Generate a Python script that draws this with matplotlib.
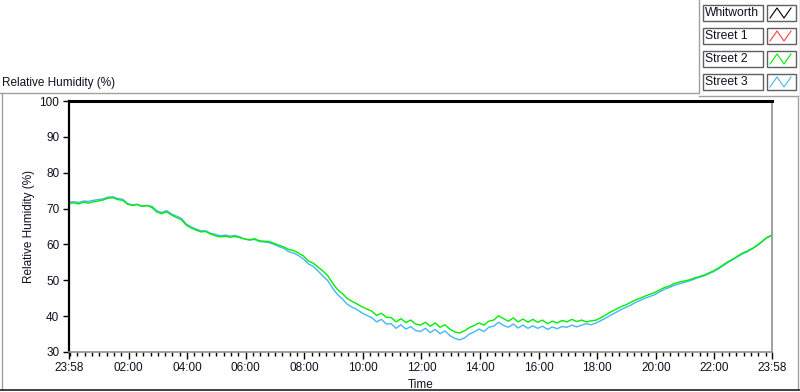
import datetime as dt

import matplotlib
matplotlib.use("Agg")
import matplotlib.pyplot as plt
import matplotlib.dates as mdates
from matplotlib.lines import Line2D
from matplotlib.patches import Rectangle
from matplotlib.ticker import FixedLocator

plt.rcParams['font.family'] = ['Liberation Sans', 'DejaVu Sans']

# readings every 10 minutes, starting 23:58
start = dt.datetime(2014, 6, 1, 23, 58)
step_minutes = 10

street2 = [
    71.4, 71.6, 71.3, 71.8, 71.5, 71.9,
    72.1, 72.4, 72.9, 73.0, 72.5, 72.3,
    71.2, 70.9, 71.1, 70.6, 70.8, 70.3,
    69.0, 68.6, 69.1, 68.2, 67.5, 66.9,
    65.4, 64.6, 64.0, 63.5, 63.6, 62.9,
    62.4, 62.1, 62.3, 62.0, 62.2, 61.9,
    61.5, 61.3, 61.6, 61.0, 60.9, 60.8,
    60.3, 59.8, 59.3, 58.6, 58.3, 57.6,
    56.8, 55.4, 54.8, 53.7, 52.6, 51.3,
    49.2, 47.4, 46.3, 44.9, 44.1, 43.4,
    42.6, 42.0, 41.4, 40.2, 40.8, 39.7,
    39.6, 38.4, 39.3, 38.2, 38.9, 37.8,
    37.5, 38.3, 37.2, 38.1, 36.9, 37.6,
    36.4, 35.6, 35.3, 35.9, 36.8, 37.4,
    38.1, 37.5, 38.6, 38.9, 40.1, 39.3,
    38.6, 39.5, 38.4, 39.2, 38.3, 39.1,
    38.3, 38.9, 37.9, 38.6, 38.1, 38.8,
    38.4, 39.1, 38.5, 38.9, 38.4, 38.7,
    38.9, 39.6, 40.4, 41.2, 41.9, 42.6,
    43.1, 43.8, 44.5, 45.0, 45.6, 46.1,
    46.6, 47.3, 48.0, 48.4, 49.1, 49.5,
    49.8, 50.1, 50.6, 51.0, 51.4, 52.0,
    52.6, 53.4, 54.3, 55.2, 55.9, 56.8,
    57.6, 58.2, 58.9, 59.8, 60.9, 62.0,
    62.6,
]

street3 = [
    71.8, 71.9, 71.7, 72.1, 72.0, 72.3,
    72.5, 72.7, 73.2, 73.3, 72.8, 72.6,
    71.4, 71.0, 71.2, 70.7, 70.9, 70.6,
    69.4, 68.9, 69.4, 68.5, 67.9, 67.3,
    65.7, 64.9, 64.3, 63.8, 63.8, 63.1,
    62.8, 62.4, 62.6, 62.3, 62.5, 62.1,
    61.5, 61.2, 61.4, 60.8, 60.7, 60.5,
    60.0, 59.4, 58.9, 58.0, 57.6, 56.9,
    56.0, 54.6, 53.9, 52.6, 51.2, 49.9,
    47.8, 46.0, 44.8, 43.3, 42.5, 41.8,
    40.9, 40.2, 39.6, 38.4, 39.1, 37.8,
    37.9, 36.6, 37.6, 36.4, 37.1, 36.0,
    35.7, 36.6, 35.4, 36.3, 35.1, 35.9,
    34.6, 33.8, 33.4, 33.9, 35.0, 35.6,
    36.4, 35.7, 36.9, 37.2, 38.3, 37.4,
    36.9, 37.8, 36.7, 37.5, 36.6, 37.3,
    36.6, 37.2, 36.3, 37.0, 36.5, 37.1,
    36.9, 37.5, 37.0, 37.5, 37.9, 37.6,
    38.1, 38.8, 39.5, 40.3, 41.0, 41.8,
    42.4, 43.0, 43.8, 44.4, 45.0, 45.5,
    46.0, 46.8, 47.5, 48.0, 48.6, 49.0,
    49.4, 49.8, 50.3, 50.8, 51.2, 51.8,
    52.4, 53.2, 54.1, 55.0, 55.8, 56.6,
    57.4, 58.0, 58.8, 59.7, 60.8, 61.9,
    62.5,
]

series_names = ["Whitworth", "Street 1", "Street 2", "Street 3"]
series_colors = ["#000000", "#ff4040", "#00ee00", "#45b6f7"]
y_ticks = [30, 40, 50, 60, 70, 80, 90, 100]
x_major_hours = [2, 4, 6, 8, 10, 12, 14, 16, 18, 20, 22]

times = [start + dt.timedelta(minutes=step_minutes * i) for i in range(len(street2))]
end = start + dt.timedelta(hours=24)
day2 = dt.datetime(start.year, start.month, start.day) + dt.timedelta(days=1)
major_times = [start] + [day2 + dt.timedelta(hours=h) for h in x_major_hours] + [end]

W, H = 800, 392
fig = plt.figure(figsize=(W / 100, H / 100), dpi=100)

# overlay in pixel units for the panel frame and legend
bg = fig.add_axes([0, 0, 1, 1])
bg.set_xlim(0, W)
bg.set_ylim(H, 0)
bg.axis("off")

gray = "#a0a0a0"
bg.plot([0, 698], [92.5, 92.5], color=gray, lw=1)
bg.plot([698.5, 698.5], [0, 92.5], color=gray, lw=1)
bg.plot([699, 798], [95.5, 95.5], color=gray, lw=1)
bg.plot([797.5, 797.5], [95.5, 389], color=gray, lw=1)
bg.plot([799.5, 799.5], [0, 95], color=gray, lw=1)
bg.plot([1.5, 1.5], [92.5, 389], color=gray, lw=1)
bg.plot([0, 800], [389.5, 389.5], color="#202020", lw=1.2)

bg.text(2, 83, "Relative Humidity (%)", fontsize=8.5, ha="left", va="center",
        color="#101020")

# legend boxes
for i, (name, color) in enumerate(zip(series_names, series_colors)):
    top = 4 + 23 * i
    bg.add_patch(Rectangle((702.5, top + 0.5), 60, 16, facecolor="white",
                           edgecolor="#606060", lw=1))
    bg.text(705, top + 9, name, fontsize=8.7, ha="left", va="center",
            color="#101020")
    bg.add_patch(Rectangle((766.5, top + 0.5), 29, 16, facecolor="white",
                           edgecolor="#606060", lw=1))
    bg.add_line(Line2D([770, 777, 784, 791], [top + 14, top + 4, top + 14, top + 4],
                       color=color, lw=0.8))

ax = fig.add_axes([69 / W, 1 - 352 / H, (772 - 69) / W, (352 - 101) / H])
ax.plot(times, street3, color=series_colors[3], lw=1.0)
ax.plot(times, street2, color=series_colors[2], lw=1.0)

ax.set_xlim(start, end)
ax.set_ylim(30, 100)
ax.set_yticks(y_ticks)
ax.xaxis.set_major_locator(FixedLocator(mdates.date2num(major_times)))
ax.xaxis.set_major_formatter(mdates.DateFormatter("%H:%M"))
ax.xaxis.set_minor_locator(mdates.MinuteLocator(byminute=[0, 15, 30, 45]))

ax.spines["left"].set_color("black")
ax.spines["left"].set_linewidth(1.6)
ax.spines["top"].set_color("black")
ax.spines["top"].set_linewidth(2.2)
ax.spines["right"].set_color("#909090")
ax.spines["right"].set_linewidth(1.2)
ax.spines["bottom"].set_color("#909090")
ax.spines["bottom"].set_linewidth(1.2)

ax.tick_params(axis="y", length=4, width=1, pad=3, labelsize=8.5,
               labelcolor="#101020", color="black")
ax.tick_params(axis="x", which="major", length=5, width=1, pad=2,
               labelsize=8.5, labelcolor="#101020", color="black")
ax.tick_params(axis="x", which="minor", length=3, width=1, color="black")

ax.set_ylabel("Relative Humidity (%)", fontsize=8.5, color="#101020", labelpad=3)
ax.set_xlabel("Time", fontsize=8.5, color="#101020", labelpad=4)

fig.savefig("out.png", dpi=100)
